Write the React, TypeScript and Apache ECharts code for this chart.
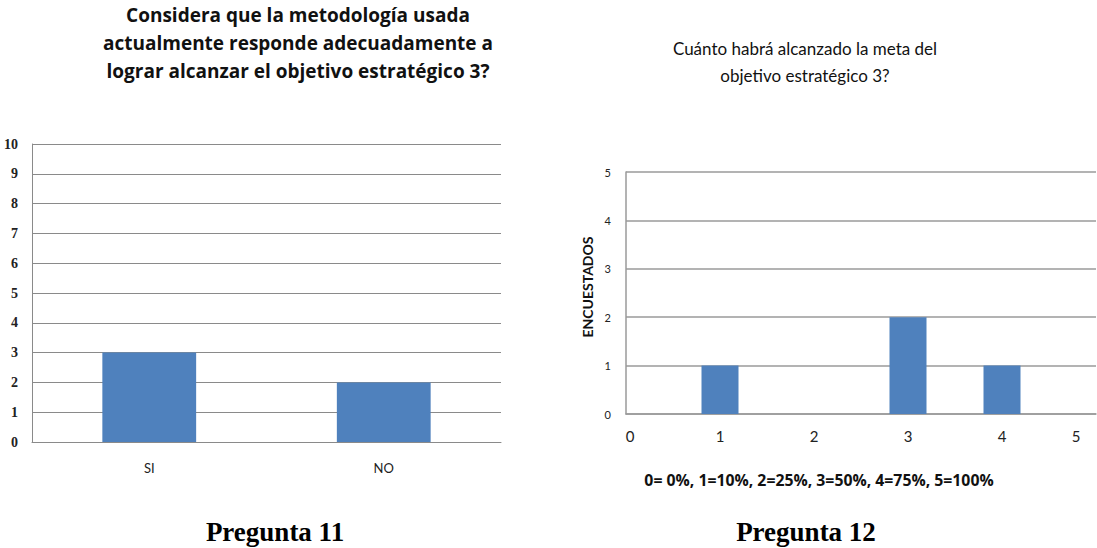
import React, { useEffect, useRef } from "react";
import * as echarts from "echarts";

const q11Categories = ["SI", "NO"];
const q11Values = [3, 2];
const q11Ticks = [0, 10];

const q12Levels = [0, 1, 2, 3, 4, 5];
const q12Values = [0, 1, 0, 2, 1, 0];
const q12Ticks = [0, 5];

const title11 = "Considera que la metodología usada\nactualmente responde adecuadamente a\nlograr alcanzar el objetivo estratégico 3?";
const title12 = "Cuánto habrá alcanzado la meta del\nobjetivo estratégico 3?";
const legend12 = "0= 0%, 1=10%, 2=25%, 3=50%, 4=75%, 5=100%";
const caption11 = "Pregunta 11";
const caption12 = "Pregunta 12";
const yName12 = "ENCUESTADOS";

const SANS = "Lato, 'Open Sans', sans-serif";
const WIDE = "'Open Sans', Lato, sans-serif";
const SERIF = "'Liberation Serif', 'DejaVu Serif', serif";
const BAR = "#4f81bd";

export default function App() {
  const ref = useRef<HTMLDivElement>(null);
  useEffect(() => {
    if (!ref.current) return;
    const chart = echarts.init(ref.current, null, { renderer: "svg" });
    chart.setOption({
      animation: false,
      backgroundColor: "#ffffff",
      grid: [
        { left: 32, top: 144, width: 469, height: 298 },
        { left: 626, top: 172, width: 470, height: 242 },
      ],
      xAxis: [
        {
          gridIndex: 0,
          type: "category",
          data: q11Categories,
          axisLine: { show: true, lineStyle: { color: "#8a8a8a", width: 1 } },
          axisTick: { show: false },
          axisLabel: { margin: 19, fontSize: 13, fontFamily: SANS, color: "#222" },
        },
        {
          gridIndex: 1,
          type: "value",
          min: q12Ticks[0],
          max: q12Ticks[1],
          interval: 1,
          axisLine: { show: true, onZero: false, lineStyle: { color: "#9a9a9a", width: 1.5 } },
          axisTick: { show: false },
          splitLine: { show: false },
          axisLabel: {
            margin: 14,
            fontSize: 15,
            fontFamily: SANS,
            color: "#222",
            formatter: (v: number) => (v === 5 ? "{m|5}" : v === 0 ? "{z|0}" : String(v)),
            rich: {
              m: { fontSize: 15, fontFamily: SANS, color: "#222", padding: [0, 40, 0, 0] },
              z: { fontSize: 15, fontFamily: SANS, color: "#222", padding: [0, 0, 0, 8] },
            },
          },
        },
      ],
      yAxis: [
        {
          gridIndex: 0,
          type: "value",
          min: q11Ticks[0],
          max: q11Ticks[1],
          interval: 1,
          axisLine: { show: true, lineStyle: { color: "#8a8a8a", width: 1 } },
          axisTick: { show: false },
          splitLine: { show: true, lineStyle: { color: "#8a8a8a", width: 1 } },
          axisLabel: { margin: 14, fontSize: 14, fontFamily: SERIF, color: "#222", fontWeight: "bold" },
        },
        {
          gridIndex: 1,
          type: "value",
          min: q12Ticks[0],
          max: q12Ticks[1],
          interval: 1,
          name: yName12,
          nameLocation: "middle",
          nameRotate: 90,
          nameGap: 32,
          nameTextStyle: { fontSize: 14, fontWeight: "bold", fontFamily: SANS, color: "#111", padding: [0, 0, 0, 12] },
          axisLine: { show: true, lineStyle: { color: "#9a9a9a", width: 1.5 } },
          axisTick: { show: false },
          splitLine: { show: true, lineStyle: { color: "#9a9a9a", width: 1.5 } },
          axisLabel: { margin: 15, fontSize: 11, fontFamily: SANS, color: "#222" },
        },
      ],
      series: [
        {
          type: "bar",
          xAxisIndex: 0,
          yAxisIndex: 0,
          data: q11Values,
          barWidth: "40%",
          itemStyle: { color: BAR },
        },
        {
          type: "bar",
          xAxisIndex: 1,
          yAxisIndex: 1,
          data: q12Levels.map((l, i) => [l, q12Values[i]]),
          barWidth: 37,
          itemStyle: { color: BAR },
        },
      ],
      graphic: [
        {
          type: "text",
          x: 298,
          y: 1,
          style: {
            text: title11,
            textAlign: "center",
            fontSize: 19,
            fontWeight: "bold",
            fontFamily: WIDE,
            lineHeight: 28,
            fill: "#111",
          },
        },
        {
          type: "text",
          x: 805,
          y: 35,
          style: {
            text: title12,
            textAlign: "center",
            fontSize: 17,
            fontFamily: SANS,
            lineHeight: 27,
            fill: "#111",
          },
        },
        {
          type: "text",
          x: 819,
          y: 472,
          style: {
            text: legend12,
            textAlign: "center",
            fontSize: 15.8,
            fontWeight: "bold",
            fontFamily: WIDE,
            fill: "#111",
          },
        },
        {
          type: "text",
          x: 275,
          y: 518,
          style: {
            text: caption11,
            textAlign: "center",
            fontSize: 27,
            fontWeight: "bold",
            fontFamily: SERIF,
            fill: "#000",
          },
        },
        {
          type: "text",
          x: 806,
          y: 518,
          style: {
            text: caption12,
            textAlign: "center",
            fontSize: 27,
            fontWeight: "bold",
            fontFamily: SERIF,
            fill: "#000",
          },
        },
      ],
    });
    return () => chart.dispose();
  }, []);
  return (
    <div
      ref={ref}
      style={{ position: "absolute", left: 0, top: 0, width: 1097, height: 548 }}
    />
  );
}
